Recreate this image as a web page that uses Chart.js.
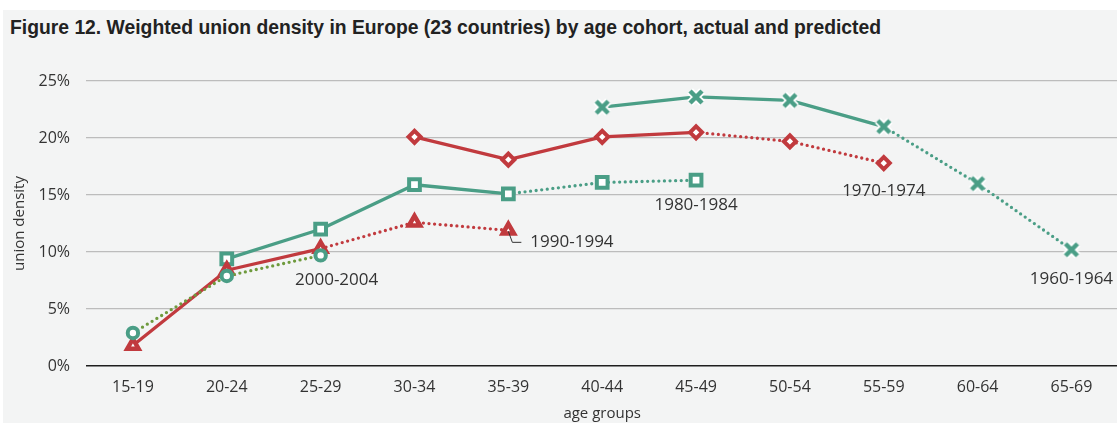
<!DOCTYPE html>
<html lang="en">

<head>
    <meta charset="UTF-8">
    <title>Weighted union density by age cohort</title>
    <script src="https://cdn.jsdelivr.net/npm/chart.js"></script>
    <style>
        body { margin: 0; background: #fff; overflow: hidden; width: 1117px; height: 425px; }
        #panel { position: absolute; left: 3px; top: 10px; width: 1114px; height: 413px; background: #f3f4f4; }
        #titulo { position: absolute; left: 10px; top: 16px; margin: 0; font: bold 21px/21px "Liberation Sans Narrow", "Liberation Sans", sans-serif; color: #222; white-space: nowrap; transform-origin: 0 0; }
        #grafico { position: absolute; left: 0; top: 0; }
    </style>
</head>

<body>
    <div id="panel"></div>
    <h1 id="titulo">Figure 12. Weighted union density in Europe (23 countries) by age cohort, actual and predicted</h1>
    <canvas id="grafico" width="1130" height="425"></canvas>

    <script>
        const ageGroups = ['15-19', '20-24', '25-29', '30-34', '35-39', '40-44', '45-49', '50-54', '55-59', '60-64', '65-69'];
        const yTicks = [0, 5, 10, 15, 20, 25];

        const cohortNames = ['1960-1964', '1970-1974', '1980-1984', '1990-1994', '2000-2004'];
        const c1960 = [null, null, null, null, null, 22.7, 23.6, 23.3, 21.0, 16.0, 10.2];
        const c1970 = [null, null, null, 20.1, 18.1, 20.1, 20.5, 19.7, 17.8, null, null];
        const c1980 = [null, 9.4, 12.0, 15.9, 15.1, 16.1, 16.3, null, null, null, null];
        const c1990 = [1.8, 8.4, 10.3, 12.6, 11.9, null, null, null, null, null, null];
        const c2000 = [2.9, 7.9, 9.7, null, null, null, null, null, null, null, null];
        // last observed age group per cohort, after it the values are predicted
        const lastActual = [8, 6, 4, 2, -1];

        const verde = '#4a9e86';
        const rojo = '#c13a3e';
        const oliva = '#6e9a3d';
        const fuente = '"Open Sans", sans-serif';

        const PLOT_LEFT = 86;
        const PLOT_BOTTOM = 366;

        // title squeezed to the width of the original
        const titulo = document.getElementById('titulo');
        titulo.style.transform = 'scaleX(' + (871 / titulo.getBoundingClientRect().width) + ')';

        // green cross with a white halo, as in the original
        function cruz() {
            const c = document.createElement('canvas');
            c.width = 22;
            c.height = 22;
            const g = c.getContext('2d');
            const trazo = (color, ancho) => {
                g.strokeStyle = color;
                g.lineWidth = ancho;
                g.beginPath();
                g.moveTo(5, 5); g.lineTo(17, 17);
                g.moveTo(17, 5); g.lineTo(5, 17);
                g.stroke();
            };
            trazo('#fff', 8);
            trazo(verde, 4.5);
            return c;
        }

        function lineaCohorte(i, data, color, estilo, radio, grosor) {
            return {
                label: cohortNames[i],
                data: data,
                borderColor: color,
                borderWidth: 3.3,
                borderCapStyle: 'round',
                borderJoinStyle: 'round',
                pointStyle: estilo,
                pointRadius: radio,
                pointHoverRadius: radio,
                pointBorderWidth: grosor,
                pointBorderColor: color,
                pointBackgroundColor: '#fff',
                spanGaps: false,
                tension: 0,
                segment: {
                    borderDash: ctx => ctx.p0DataIndex >= lastActual[i] ? [0, 5.6] : undefined
                }
            };
        }

        const datasets = [
            lineaCohorte(0, c1960, verde, cruz(), 9, 0),
            lineaCohorte(1, c1970, rojo, 'rectRot', 6, 4),
            lineaCohorte(2, c1980, verde, 'rect', 7.6, 4),
            lineaCohorte(3, c1990, rojo, 'triangle', 6.5, 4.5),
            lineaCohorte(4, c2000, oliva, 'circle', 5.2, 4)
        ];
        // markers of the youngest cohort are green, its line is olive
        datasets[4].pointBorderColor = verde;
        datasets.forEach((d, i) => { d.order = i === 4 ? 0 : 5 - i; });

        // cohort names next to the last point: [cohort, age group, dx, dy, align]
        const etiquetas = [
            [4, 2, 16, 25, 'center'],
            [3, 4, 22, 12, 'left'],
            [2, 6, 0, 25, 'center'],
            [1, 8, 0, 28, 'center'],
            [0, 10, 0, 29, 'center']
        ];
        const serieDe = [c1960, c1970, c1980, c1990, c2000];

        const pluginEtiquetas = {
            id: 'etiquetas',
            afterDatasetsDraw(chart) {
                const { ctx, scales: { x, y } } = chart;
                ctx.save();
                ctx.font = '17px ' + fuente;
                ctx.fillStyle = '#333';
                ctx.textBaseline = 'middle';
                etiquetas.forEach(([c, g, dx, dy, align]) => {
                    const px = x.getPixelForValue(g);
                    const py = y.getPixelForValue(serieDe[c][g]);
                    ctx.textAlign = align;
                    ctx.fillText(cohortNames[c], px + dx, py + dy);
                    if (align === 'left') {
                        // little leader line to the label
                        ctx.strokeStyle = '#333';
                        ctx.lineWidth = 1;
                        ctx.beginPath();
                        ctx.moveTo(px, py + 1);
                        ctx.lineTo(px + 4, py + dy);
                        ctx.lineTo(px + 13, py + dy);
                        ctx.stroke();
                    }
                });
                ctx.restore();
            }
        };

        new Chart(document.getElementById('grafico'), {
            type: 'line',
            data: { labels: ageGroups, datasets: datasets },
            options: {
                responsive: false,
                animation: false,
                layout: { padding: { left: 0, right: 3, top: 81, bottom: 0 } },
                plugins: {
                    legend: { display: false },
                    tooltip: { enabled: false }
                },
                scales: {
                    x: {
                        offset: true,
                        grid: { display: false, drawTicks: false },
                        border: { display: false },
                        ticks: { padding: 12, color: '#333', font: { family: fuente, size: 16 } },
                        title: { display: true, text: 'age groups', color: '#333', padding: { top: 0, bottom: 2 }, font: { family: fuente, size: 15 } },
                        afterFit(scale) { scale.height = 425 - PLOT_BOTTOM; }
                    },
                    y: {
                        min: 0,
                        max: 25,
                        afterBuildTicks(scale) { scale.ticks = yTicks.map(v => ({ value: v })); },
                        grid: {
                            drawTicks: false,
                            lineWidth: ctx => ctx.tick.value === 0 ? 1.6 : 1.3,
                            color: ctx => ctx.tick.value === 0 ? '#1e1e1e' : '#bcbcbc'
                        },
                        border: { display: false },
                        ticks: { padding: 16, color: '#333', font: { family: fuente, size: 16 }, callback: v => v + '%' },
                        title: { display: true, text: 'union density', color: '#333', padding: { top: 11, bottom: 0 }, font: { family: fuente, size: 15 } },
                        afterFit(scale) { scale.width = PLOT_LEFT; }
                    }
                }
            },
            plugins: [pluginEtiquetas]
        });
    </script>
</body>

</html>
